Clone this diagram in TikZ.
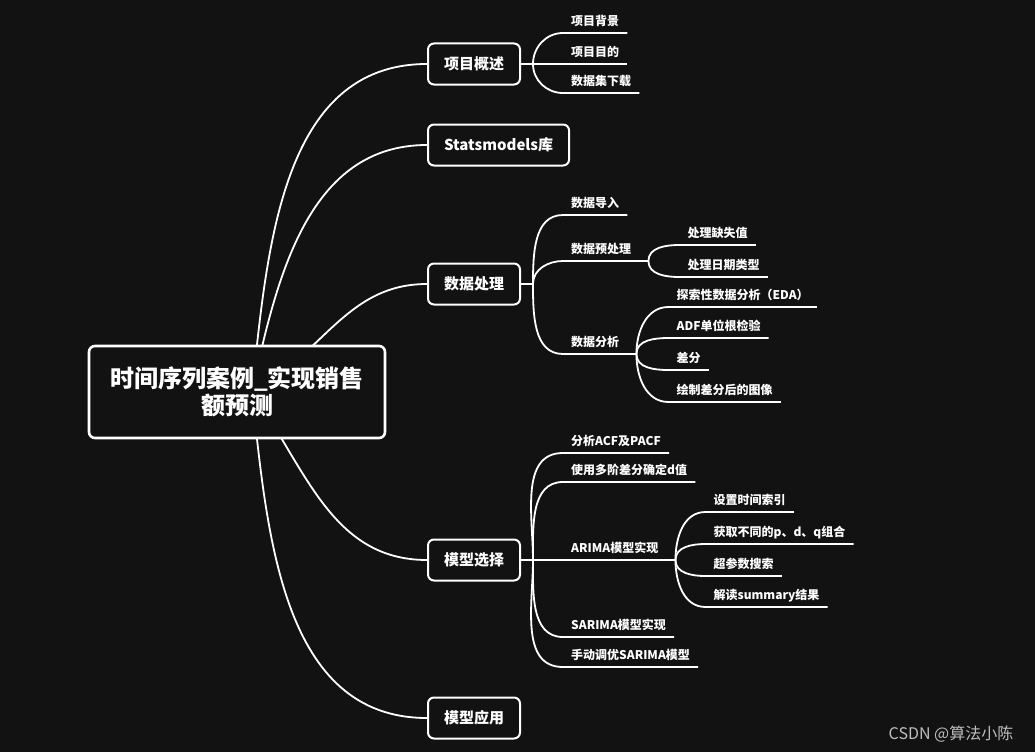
\documentclass[tikz,border=0pt]{standalone}
\usepackage{fontspec}
\newfontfamily\cjk{Noto Sans CJK SC}
\usepackage{xcolor}
\usepackage{tikz}

\definecolor{bgdark}{RGB}{18,18,18}
\definecolor{markgray}{RGB}{190,190,190}

\begin{document}
\begin{tikzpicture}[x=1pt, y=1pt,
  link/.style={white, line width=1.8pt},
  rootbox/.style={draw=white, line width=2.6pt, rounded corners=6pt, fill=bgdark, text=white,
    align=center, font=\cjk\bfseries\fontsize{24}{27}\selectfont, minimum width=296pt, minimum height=92pt},
  topic/.style={draw=white, line width=2pt, rounded corners=6pt, fill=bgdark, text=white,
    font=\cjk\bfseries\fontsize{15}{18}\selectfont, minimum height=41pt, inner xsep=16pt, anchor=west},
  leaf/.style={text=white, font=\cjk\bfseries\fontsize{12}{14}\selectfont, inner xsep=8pt, inner ysep=5pt,
    text height=10pt, text depth=2pt, anchor=south west},
  wmark/.style={text=markgray, font=\cjk\fontsize{16}{18}\selectfont}]

  % background
  \fill[bgdark] (0,0) rectangle (1035,-752);

  % main topics
  \node[topic] (ov) at (427,-64) {项目概述};
  \node[topic] (sm) at (427,-145) {Statsmodels库};
  \node[topic] (dp) at (427,-284) {数据处理};
  \node[topic] (ms) at (427,-560) {模型选择};
  \node[topic] (ma) at (427,-718) {模型应用};

  % branches from the root
  \coordinate (hub) at (252,-392);
  \draw[link] (hub) to[out=84,in=180] (ov.west);
  \draw[link] (hub) to[out=78,in=180] (sm.west);
  \draw[link] (hub) to[out=28,in=180] (dp.west);
  \draw[link] (hub) to[out=-55,in=180] (ms.west);
  \draw[link] (hub) to[out=-84,in=180] (ma.west);

  % root
  \node[rootbox] (root) at (237,-392) {时间序列案例\_实现销售\\额预测};

  % 项目概述
  \draw[link] (ov.east) -- ++(12,0) coordinate (ovj);
  \node[leaf] (bj) at ([shift={(30,31)}]ovj) {项目背景};
  \node[leaf] (md) at ([shift={(30,0)}]ovj) {项目目的};
  \node[leaf] (xz) at ([shift={(30,-29)}]ovj) {数据集下载};
  \draw[link] (ovj) to[out=90,in=180] (bj.south west) -- (bj.south east);
  \draw[link] (ovj) -- (md.south east);
  \draw[link] (ovj) to[out=-90,in=180] (xz.south west) -- (xz.south east);

  % 数据处理
  \draw[link] (dp.east) -- ++(12,0) coordinate (dpj);
  \node[leaf] (dr) at ([shift={(30,69)}]dpj) {数据导入};
  \node[leaf] (yc) at ([shift={(30,23)}]dpj) {数据预处理};
  \node[leaf] (fx) at ([shift={(30,-70)}]dpj) {数据分析};
  \draw[link] (dpj) to[out=90,in=180] (dr.south west) -- (dr.south east);
  \draw[link] (dpj) to[out=90,in=180] (yc.south west) -- (yc.south east) -- ++(9,0) coordinate (ycj);
  \draw[link] (dpj) to[out=-90,in=180] (fx.south west) -- (fx.south east) -- ++(9,0) coordinate (fxj);

  \node[leaf] (qs) at ([shift={(31,16)}]ycj) {处理缺失值};
  \node[leaf] (rq) at ([shift={(31,-16)}]ycj) {处理日期类型};
  \draw[link] (ycj) to[out=90,in=180] (qs.south west) -- (qs.south east);
  \draw[link] (ycj) to[out=-90,in=180] (rq.south west) -- (rq.south east);

  \node[leaf] (eda) at ([shift={(32,47)}]fxj) {探索性数据分析（EDA）};
  \node[leaf] (adf) at ([shift={(32,16)}]fxj) {ADF单位根检验};
  \node[leaf] (cf) at ([shift={(32,-16)}]fxj) {差分};
  \node[leaf] (ht) at ([shift={(32,-48)}]fxj) {绘制差分后的图像};
  \draw[link] (fxj) to[out=90,in=180] (eda.south west) -- (eda.south east);
  \draw[link] (fxj) to[out=90,in=180] (adf.south west) -- (adf.south east);
  \draw[link] (fxj) to[out=-90,in=180] (cf.south west) -- (cf.south east);
  \draw[link] (fxj) to[out=-90,in=180] (ht.south west) -- (ht.south east);

  % 模型选择
  \draw[link] (ms.east) -- ++(12,0) coordinate (msj);
  \node[leaf] (acf) at ([shift={(30,107)}]msj) {分析ACF及PACF};
  \node[leaf] (dz) at ([shift={(30,78)}]msj) {使用多阶差分确定d值};
  \node[leaf] (ar) at ([shift={(30,0)}]msj) {ARIMA模型实现};
  \node[leaf] (sar) at ([shift={(30,-77)}]msj) {SARIMA模型实现};
  \node[leaf] (sd) at ([shift={(30,-107)}]msj) {手动调优SARIMA模型};
  \draw[link] (msj) to[out=90,in=180] (acf.south west) -- (acf.south east);
  \draw[link] (msj) to[out=90,in=180] (dz.south west) -- (dz.south east);
  \draw[link] (msj) -- (ar.south east) -- ++(9,0) coordinate (arj);
  \draw[link] (msj) to[out=-90,in=180] (sar.south west) -- (sar.south east);
  \draw[link] (msj) to[out=-90,in=180] (sd.south west) -- (sd.south east);

  \node[leaf] (sy) at ([shift={(30,48)}]arj) {设置时间索引};
  \node[leaf] (hq) at ([shift={(30,16)}]arj) {获取不同的p、d、q组合};
  \node[leaf] (cc) at ([shift={(30,-16)}]arj) {超参数搜索};
  \node[leaf] (jd) at ([shift={(30,-47)}]arj) {解读summary结果};
  \draw[link] (arj) to[out=90,in=180] (sy.south west) -- (sy.south east);
  \draw[link] (arj) to[out=90,in=180] (hq.south west) -- (hq.south east);
  \draw[link] (arj) to[out=-90,in=180] (cc.south west) -- (cc.south east);
  \draw[link] (arj) to[out=-90,in=180] (jd.south west) -- (jd.south east);

  % watermark
  \node[wmark] (wm) at (951,-734) {CSDN @算法小陈};
\end{tikzpicture}
\end{document}
